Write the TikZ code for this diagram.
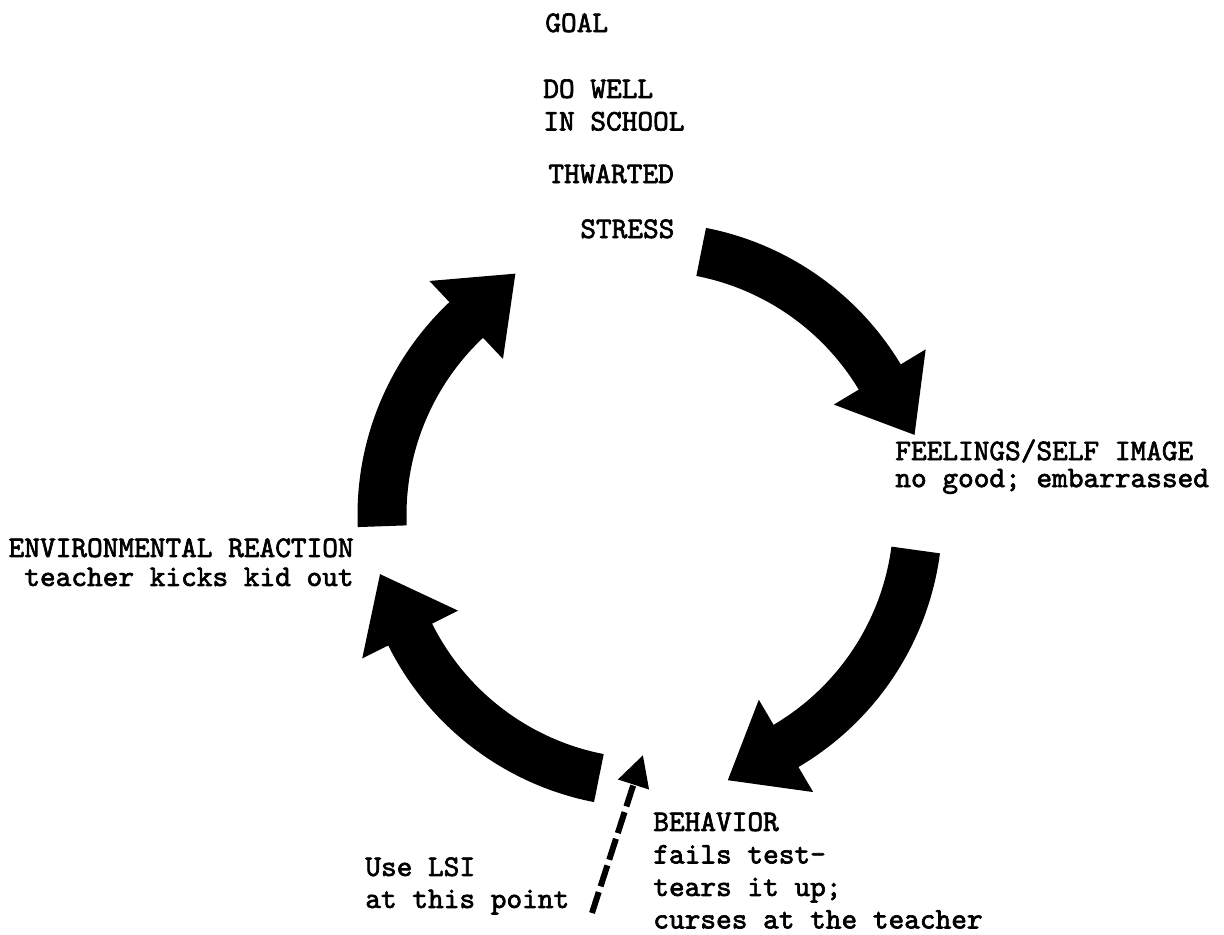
\documentclass[tikz,border=0pt]{standalone}
\usepackage{fontspec}
\newfontfamily\typer[AutoFakeBold=2.2]{lmmono10-regular.otf}
\usetikzlibrary{arrows.meta,calc}

\tikzset{
    cyclearrow/.style={line width=0.98cm, -{Triangle[length=1.36cm,width=2.05cm]}},
    lsiarrow/.style={line width=0.12cm, dash pattern=on 0.44cm off 0.12cm, -{Triangle[length=0.62cm,width=0.62cm]}},
    typed/.style={inner sep=0pt, align=left, font=\typer\bfseries\fontsize{17pt}{#1}\selectfont},
    typed/.default=0.65cm
}

\begin{document}
\begin{tikzpicture}[x=0.02cm,y=-0.02cm]
    \useasboundingbox (0,0) rectangle (1224,934);

    % labels round the cycle
    \node[typed, anchor=base west] (goal) at (545,32) {GOAL};
    \node[typed, anchor=north west] (dowell) at (543,79) {DO WELL\\IN SCHOOL};
    \node[typed, anchor=base west] (thwarted) at (548,183) {THWARTED};
    \node[typed, anchor=base west] (stress) at (580,238) {STRESS};
    \node[typed=0.54cm, anchor=north west] (feelings) at (895,439) {FEELINGS/SELF IMAGE\\no good; embarrassed};
    \node[typed=0.58cm, anchor=north east, align=right] (env) at (354,538) {ENVIRONMENTAL REACTION\\teacher kicks kid out};
    \node[typed, anchor=north west] (behavior) at (653,812) {BEHAVIOR\\fails test-\\tears it up;\\curses at the teacher};
    \node[typed=0.64cm, anchor=north west] (uselsi) at (365,857) {Use LSI\\at this point};

    % the four big arrows
    \coordinate (C) at (650,515);
    \coordinate (t1) at ($(C)+(-79:268)$);
    \coordinate (t2) at ($(C)+(7.5:268)$);
    \coordinate (t3) at ($(C)+(101:268)$);
    \coordinate (t4) at ($(C)+(177.6:268)$);
    \draw[cyclearrow] (t1) arc[start angle=-79, end angle=-31, radius=268] -- ++(59:68);
    \draw[cyclearrow] (t2) arc[start angle=7.5, end angle=59.5, radius=268] -- ++(149.5:68);
    \draw[cyclearrow] (t3) arc[start angle=101, end angle=153.5, radius=268] -- ++(243.5:68);
    \draw[cyclearrow] (t4) arc[start angle=177.6, end angle=226.7, radius=268] -- ++(316.7:68);

    % dashed pointer
    \coordinate (lsifoot) at (592,913);
    \coordinate (lsihead) at (643,755);
    \draw[lsiarrow] (lsifoot) -- (lsihead);
\end{tikzpicture}
\end{document}
